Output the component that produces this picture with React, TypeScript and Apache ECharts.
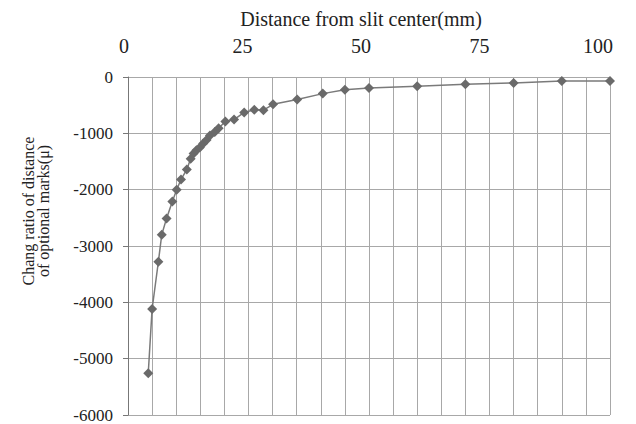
import React, { useEffect, useRef } from "react";
import * as echarts from "echarts";

const distances = [4.2, 5, 6.3, 7, 8, 9.2, 10.1, 11, 12.2, 13, 13.6, 14.2, 14.9, 15.6, 16.3, 17, 18, 18.8, 20.2, 22, 24.1, 26.2, 28.1, 30.1, 35.1, 40.4, 45, 50, 60, 70, 80, 90, 100];
const changeRatios = [-5260, -4120, -3280, -2800, -2510, -2210, -2000, -1820, -1640, -1450, -1360, -1300, -1250, -1180, -1120, -1040, -975, -910, -790, -755, -630, -580, -590, -484, -400, -295, -225, -195, -165, -130, -105, -72, -70];
const xTicks = [0, 25, 50, 75, 100];
const yTicks = [0, -1000, -2000, -3000, -4000, -5000, -6000];
const xTitle = "Distance from slit center(mm)";
const yTitleLines = ["Chang ratio of distance", "of optional marks(\u03bc)"];

const FONT = "'Liberation Serif', 'DejaVu Serif', serif";

export default function App() {
  const ref = useRef<HTMLDivElement>(null);
  useEffect(() => {
    if (!ref.current) return;
    const chart = echarts.init(ref.current, undefined, { renderer: "svg" });
    const points = distances.map((d, i) => [d, changeRatios[i]]);
    const xMin = xTicks[0];
    const xMax = xTicks[xTicks.length - 1];
    chart.setOption({
      animation: false,
      backgroundColor: "#ffffff",
      grid: [
        { left: 128, right: 26, top: 77, bottom: 9, containLabel: false },
        { left: 124, right: 38, top: 77, bottom: 9, containLabel: false },
      ],
      graphic: [
        {
          type: "text",
          x: 36,
          y: 211,
          rotation: Math.PI / 2,
          style: {
            text: yTitleLines.join("\n"),
            font: `16px ${FONT}`,
            fill: "#222",
            align: "center",
            verticalAlign: "middle",
            lineHeight: 15,
          },
        },
      ],
      xAxis: [
        {
          type: "value",
          gridIndex: 0,
          position: "top",
          min: xMin,
          max: xMax,
          interval: 25,
          axisLine: { show: false },
          axisTick: { show: false },
          minorTick: { show: false, splitNumber: 5 },
          axisLabel: { show: false },
          splitLine: { show: true, lineStyle: { color: "#a8a8a8", width: 1 } },
          minorSplitLine: { show: true, lineStyle: { color: "#a8a8a8", width: 1 } },
        },
        {
          type: "value",
          gridIndex: 1,
          position: "top",
          min: xMin,
          max: xMax,
          interval: 25,
          name: xTitle,
          nameLocation: "middle",
          nameGap: 48,
          nameTextStyle: { fontFamily: FONT, fontSize: 20, color: "#222" },
          axisLine: { show: false },
          axisTick: { show: false },
          axisLabel: {
            fontFamily: FONT,
            fontSize: 20,
            color: "#222",
            margin: 21,
          },
          splitLine: { show: false },
        },
      ],
      yAxis: [
        {
          type: "value",
          gridIndex: 0,
          min: yTicks[yTicks.length - 1],
          max: yTicks[0],
          interval: 1000,
          axisLine: { show: true, onZero: false, lineStyle: { color: "#777", width: 1 } },
          axisTick: { show: true, inside: false, length: 5, lineStyle: { color: "#777" } },
          axisLabel: {
            fontFamily: FONT,
            fontSize: 17,
            color: "#222",
            margin: 15,
            formatter: (v: number) => String(v),
          },
          splitLine: { show: true, lineStyle: { color: "#a8a8a8", width: 1 } },
        },
        {
          type: "value",
          gridIndex: 1,
          min: yTicks[yTicks.length - 1],
          max: yTicks[0],
          show: false,
        },
      ],
      series: [
        {
          type: "line",
          xAxisIndex: 0,
          yAxisIndex: 0,
          data: points,
          symbol: "diamond",
          symbolSize: 10,
          itemStyle: { color: "#6a6a6a" },
          lineStyle: { color: "#7a7a7a", width: 1.5 },
        },
      ],
    });
    return () => chart.dispose();
  }, []);
  return (
    <div
      ref={ref}
      style={{ position: "fixed", left: 0, top: 0, width: 636, height: 424, background: "#fff" }}
    />
  );
}
